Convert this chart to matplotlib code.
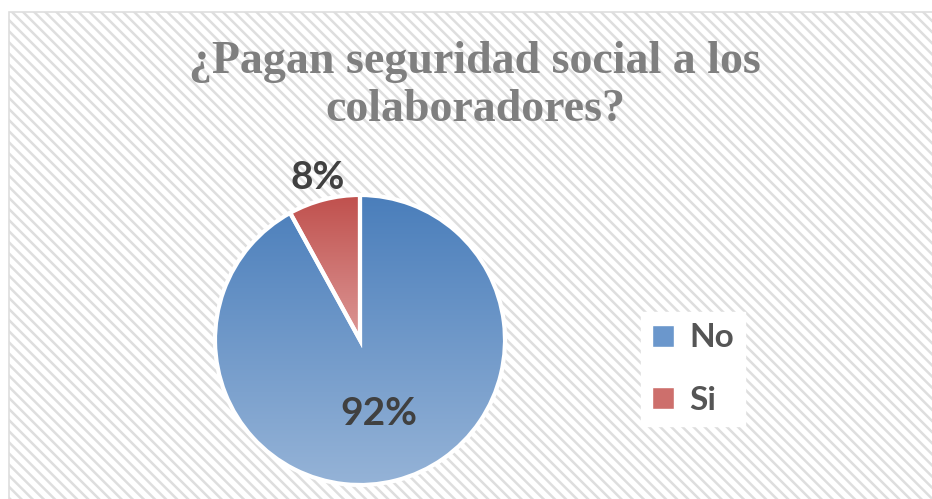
import numpy as np
import matplotlib
matplotlib.use("Agg")
import matplotlib.pyplot as plt
from matplotlib.patches import Rectangle
from matplotlib.colors import LinearSegmentedColormap

categories = ["No", "Si"]
values = [92, 8]
title = "¿Pagan seguridad social a los\ncolaboradores?"

grad_top = ["#4a7ebb", "#c0504d"]
grad_bot = ["#95b3d7", "#dc9896"]
legend_colors = ["#6b97cc", "#cd6f6c"]

W, H = 932, 499
fig = plt.figure(figsize=(W / 100, H / 100), dpi=100)
fig.patch.set_facecolor("white")

plt.rcParams["hatch.linewidth"] = 1.8
bg = Rectangle((9 / W, -0.05), 1.0, (H - 12) / H + 0.05, transform=fig.transFigure,
               facecolor="white", edgecolor="#dedede", hatch="\\\\\\", linewidth=1.2, zorder=-5)
fig.patches.append(bg)

ax = fig.add_axes([0, 0, 1, 1], zorder=1)
cx, cy, R = 360, H - 340, 145
wedges, texts, autotexts = ax.pie(
    values, startangle=90, counterclock=False, center=(cx, cy), radius=R,
    explode=[0, 0.045], autopct="%1.0f%%", pctdistance=0.52,
    wedgeprops=dict(facecolor="none", edgecolor="white", linewidth=3),
    textprops=dict(fontsize=28, fontweight="bold", color="#404040", family="Lato"))
ax.set_xlim(0, W)
ax.set_ylim(0, H)
ax.set_aspect("equal")
ax.axis("off")
ax.patch.set_visible(False)

for w, t, b in zip(wedges, grad_top, grad_bot):
    bb = w.get_path().get_extents(w.get_transform())
    ext_data = ax.transData.inverted().transform([[bb.x0, bb.y0], [bb.x1, bb.y1]])
    cmap = LinearSegmentedColormap.from_list("g", [b, t])
    grad = np.linspace(0, 1, 256).reshape(-1, 1)
    im = ax.imshow(grad, cmap=cmap, origin="lower", aspect="auto",
                   extent=(ext_data[0, 0], ext_data[1, 0], ext_data[0, 1], ext_data[1, 1]),
                   zorder=0.5, interpolation="bilinear")
    im.set_clip_path(w)
    w.set_zorder(1)

# move small-slice label outside its wedge
w = wedges[1]
mid = np.deg2rad((w.theta1 + w.theta2) / 2)
wc = w.center
autotexts[1].set_position((wc[0] + 1.16 * R * np.cos(mid), wc[1] + 1.16 * R * np.sin(mid)))
ax.set_xlim(0, W)
ax.set_ylim(0, H)
ax.set_aspect("equal")

fig.text(475 / W, (H - 41) / H, title, ha="center", va="top", fontsize=33,
         fontweight="bold", color="#7f7f7f", family="Liberation Serif", linespacing=1.2)

handles = [Rectangle((0, 0), 1, 1, facecolor=c, edgecolor="white") for c in legend_colors]
leg = fig.legend(handles, categories, loc="center", bbox_to_anchor=(693 / W, (H - 369) / H),
                 frameon=True, fancybox=False, framealpha=1, edgecolor="white",
                 prop=dict(family="Lato", weight="bold", size=24), labelcolor="#555555",
                 handlelength=0.65, handleheight=0.65, handletextpad=0.45, labelspacing=1.0,
                 borderpad=0.35, borderaxespad=0)

fig.savefig("out.png", dpi=100)
